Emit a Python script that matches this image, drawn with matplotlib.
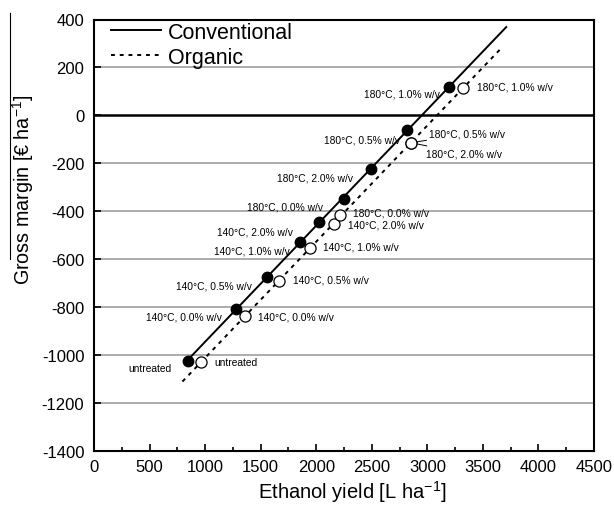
import numpy as np
import matplotlib
matplotlib.use("Agg")
import matplotlib.pyplot as plt
from matplotlib.lines import Line2D
from matplotlib.ticker import MultipleLocator

plt.rcParams['font.family'] = ['Liberation Sans', 'DejaVu Sans']
plt.rcParams['mathtext.fontset'] = 'custom'
plt.rcParams['mathtext.rm'] = 'Liberation Sans'
plt.rcParams['mathtext.default'] = 'regular'
plt.rcParams['axes.unicode_minus'] = False

# ---------------- data ----------------
treatments = ["untreated", "140°C, 0.0% w/v", "140°C, 0.5% w/v", "140°C, 1.0% w/v",
              "140°C, 2.0% w/v", "180°C, 0.0% w/v", "180°C, 0.5% w/v",
              "180°C, 1.0% w/v", "180°C, 2.0% w/v"]
conv_x = [844, 1279, 1556, 1856, 2024, 2246, 2817, 3198, 2496]
conv_y = [-1023, -806, -675, -527, -445, -348, -61, 120, -222]
org_x = [964, 1360, 1667, 1946, 2156, 2216, 2856, 3318, 2856]
org_y = [-1028, -838, -692, -552, -451, -416, -114, 113, -114]
conv_line_range = [844, 3710]
org_line_range = [796, 3667]
series_names = ["Conventional", "Organic"]
x_ticks = [0, 500, 1000, 1500, 2000, 2500, 3000, 3500, 4000, 4500]
y_ticks = [-1400, -1200, -1000, -800, -600, -400, -200, 0, 200, 400]

# label offsets in pixels (dx, dy up)
conv_off = [(-16, -7), (-14, -8), (-15, -8), (-10, -9), (-26, -9), (-21, -8),
            (-7, -9), (-9, -7), (-18, -9)]
org_off = [(13, 0), (13, 0), (14, 2), (13, 1), (14, -1), (13, 3),
           (18, 9), (14, 2), (15, -11)]

fig = plt.figure(figsize=(6.14, 5.06), dpi=100)
ax = fig.add_axes([94/614, 1 - 452/506, 500/614, (452-20.5)/506])

ax.set_xlim(0, 4500)
ax.set_ylim(-1400, 400)
ax.set_yticks(y_ticks)
ax.set_xticks(x_ticks)
ax.xaxis.set_minor_locator(MultipleLocator(250))
for yt in y_ticks:
    if yt == 0:
        ax.axhline(0, color='black', lw=1.8, zorder=1)
    elif yt not in (-1400, 400):
        ax.axhline(yt, color='#a6a6a6', lw=1.3, zorder=0)

# trend lines
for xs, ys, rng, ls in [(conv_x, conv_y, conv_line_range, '-'),
                        (org_x, org_y, org_line_range, (0, (2, 2.5)))]:
    p = np.polyfit(xs, ys, 1)
    lx = np.array(rng)
    ax.plot(lx, np.polyval(p, lx), color='black', lw=1.4, linestyle=ls, zorder=2)

ax.plot(conv_x, conv_y, 'o', ms=7.5, mfc='black', mec='black', zorder=3)
ax.plot(org_x, org_y, 'o', ms=8, mfc='white', mec='black', mew=0.9, zorder=3)

px2pt = 0.72
fs_ann = 7.4
for i, t in enumerate(treatments):
    dx, dy = conv_off[i]
    ax.annotate(t, (conv_x[i], conv_y[i]), xytext=(dx*px2pt, dy*px2pt),
                textcoords='offset points', ha='right', va='center', fontsize=fs_ann)
for i, t in enumerate(treatments):
    dx, dy = org_off[i]
    if t in ("180°C, 0.5% w/v", "180°C, 2.0% w/v"):
        ax.annotate(t, (org_x[i], org_y[i]), xytext=(dx*px2pt, dy*px2pt),
                    textcoords='offset points', ha='left', va='center', fontsize=fs_ann,
                    arrowprops=dict(arrowstyle='-', color='black', lw=0.7,
                                    shrinkA=0, shrinkB=4))
    else:
        ax.annotate(t, (org_x[i], org_y[i]), xytext=(dx*px2pt, dy*px2pt),
                    textcoords='offset points', ha='left', va='center', fontsize=fs_ann)

ax.tick_params(axis='both', which='major', direction='in', length=5, width=1.2,
               labelsize=12)
ax.tick_params(axis='y', which='major', pad=7)
ax.tick_params(axis='x', which='major', pad=6)
ax.tick_params(axis='both', which='minor', direction='in', length=3, width=1.2)
ax.tick_params(axis='y', which='both', right=False)
ax.tick_params(axis='x', which='both', top=False)
for s in ax.spines.values():
    s.set_linewidth(1.5)

ax.set_xlabel("Ethanol yield [L ha$^{-1}$]", fontsize=14.5)
ax.xaxis.set_label_coords(0.516, -0.062)
ax.set_ylabel("Gross margin [€ ha$^{-1}$]", fontsize=14.2)
ax.yaxis.set_label_coords(-0.117, 0.607)

handles = [Line2D([], [], color='black', lw=1.4, linestyle='-'),
           Line2D([], [], color='black', lw=1.4, linestyle=(0, (2, 2.5)))]
leg = ax.legend(handles, series_names, loc='upper left', frameon=False,
                fontsize=15.5, handlelength=2.3, handletextpad=0.33,
                borderaxespad=0, borderpad=0, labelspacing=0.2,
                bbox_to_anchor=(17/500, 0.995))

# thin line beside the y-label
fig.add_artist(Line2D([10/614, 10/614], [1 - 14/506, 1 - 260/506], color='black', lw=0.8))

fig.savefig("out.png", dpi=100)
